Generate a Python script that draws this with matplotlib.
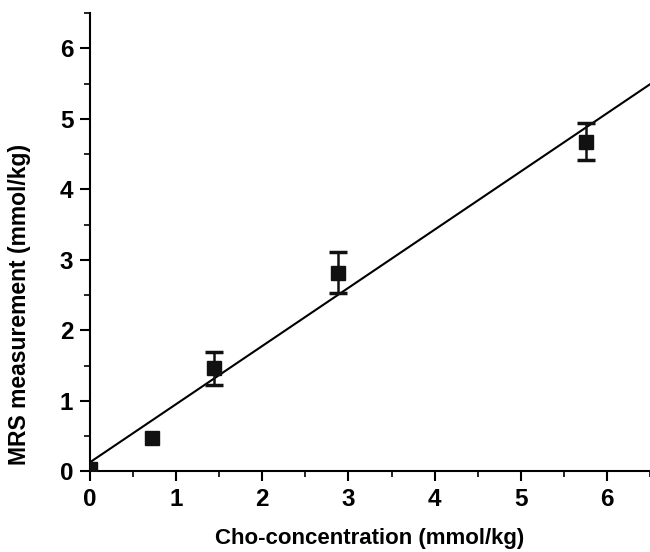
import matplotlib
matplotlib.use("Agg")
import matplotlib.pyplot as plt
import numpy as np
from matplotlib.ticker import MultipleLocator

plt.rcParams['font.family'] = ['Liberation Sans', 'DejaVu Sans']

# Data
cho_conc = [0.0, 0.72, 1.44, 2.88, 5.76]
mrs_meas = [0.04, 0.47, 1.46, 2.82, 4.68]
mrs_err = [0.0, 0.0, 0.24, 0.29, 0.26]
fit_intercept = 0.13
fit_slope = 0.825

fig = plt.figure(figsize=(6.5, 5.52), dpi=100)
ax = fig.add_axes([0.1385, 0.146, 0.8615, 0.830])

xs = np.array([0.0, 6.5])
ax.plot(xs, fit_intercept + fit_slope * xs, color='black', lw=1.5, zorder=2)

# error bars only where present
ex = [x for x, e in zip(cho_conc, mrs_err) if e > 0]
ey = [y for y, e in zip(mrs_meas, mrs_err) if e > 0]
ee = [e for e in mrs_err if e > 0]
ax.errorbar(ex, ey, yerr=ee, fmt='none', ecolor='#111111', elinewidth=1.8,
            capsize=6.5, capthick=2.5, zorder=3)
ax.plot(cho_conc, mrs_meas, 's', color='#111111', ms=10, mec='#111111', zorder=4)

ax.set_xlim(0, 6.5)
ax.set_ylim(0, 6.5)
ax.xaxis.set_major_locator(MultipleLocator(1))
ax.xaxis.set_minor_locator(MultipleLocator(0.5))
ax.yaxis.set_major_locator(MultipleLocator(1))
ax.yaxis.set_minor_locator(MultipleLocator(0.5))

for s in ['top', 'right']:
    ax.spines[s].set_visible(False)
for s in ['left', 'bottom']:
    ax.spines[s].set_linewidth(1.5)

ax.tick_params(which='major', direction='out', length=7, width=1.5,
               labelsize=17.5, pad=5)
ax.tick_params(which='minor', direction='out', length=4, width=1.2)
for lab in ax.get_xticklabels() + ax.get_yticklabels():
    lab.set_fontweight('bold')

ax.set_xlabel('Cho-concentration (mmol/kg)', fontsize=16, fontweight='bold', labelpad=12)
ax.set_ylabel('MRS measurement (mmol/kg)', fontsize=16.5, fontweight='bold')
ax.yaxis.set_label_coords(-0.106, 0.365)

fig.savefig('out.png', dpi=100)
